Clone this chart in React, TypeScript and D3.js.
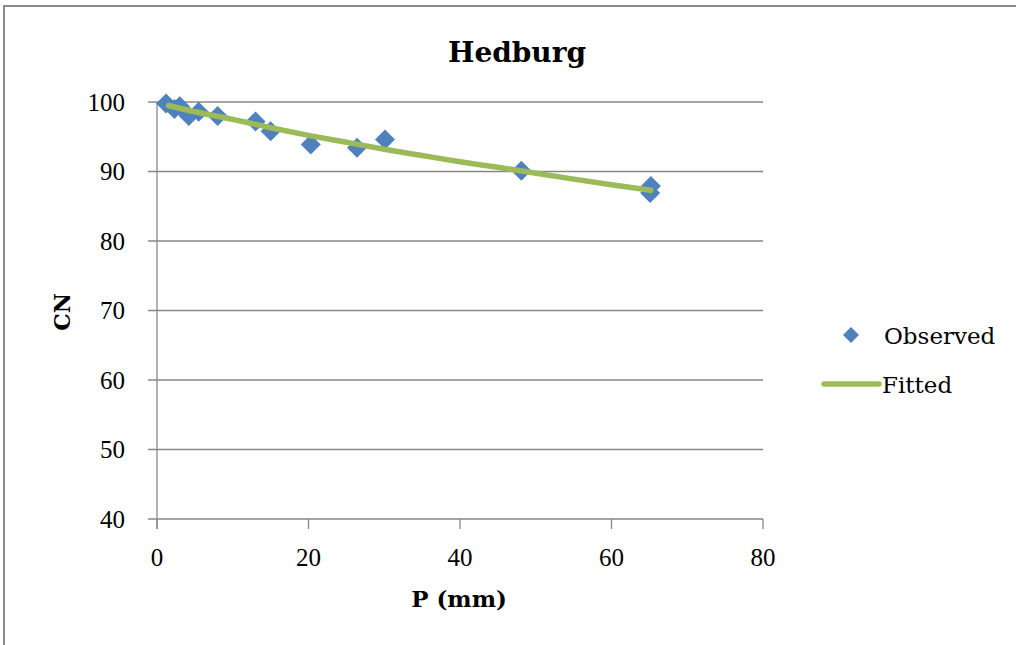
import React from "react";
import * as d3 from "d3";

const observedP = [1.2, 2.3, 3.0, 4.2, 5.5, 8.0, 13.0, 15.0, 20.3, 26.4, 30.1, 48.1, 65.2, 65.1];
const observedCN = [99.8, 99.0, 99.4, 98.0, 98.6, 98.0, 97.2, 95.8, 93.9, 93.4, 94.6, 90.1, 87.9, 86.9];
const fittedP = [1.5, 5, 10, 15, 20, 25, 30, 35, 40, 45, 48, 55, 60, 65.2];
const fittedCN = [99.5, 98.6, 97.5, 96.3, 95.2, 94.2, 93.2, 92.3, 91.4, 90.6, 90.1, 88.9, 88.1, 87.3];
const xTicks = [0, 20, 40, 60, 80];
const yTicks = [40, 50, 60, 70, 80, 90, 100];

const W = 1016, H = 645;
const left = 157, right = 763, top = 102, bottom = 519;
const FONT = "'DejaVu Serif', serif";
const NUMFONT = "'Liberation Serif', serif";

export default function App() {
  const x = d3.scaleLinear().domain([0, 80]).range([left, right]);
  const y = d3.scaleLinear().domain([40, 100]).range([bottom, top]);
  const line = d3.line<number>().x((_, i) => x(fittedP[i])).y((d) => y(d)).curve(d3.curveMonotoneX);
  const diamond = (cx: number, cy: number, r: number) =>
    `M${cx},${cy - r}L${cx + r},${cy}L${cx},${cy + r}L${cx - r},${cy}Z`;
  const grid = "#878787";
  return (
    <svg width={W} height={H} style={{ position: "absolute", left: 0, top: 0, background: "#fff" }}>
      <rect x={0} y={0} width={W} height={H} fill="#fff" />
      <path d={`M4,${H}L4,6L${W},6`} fill="none" stroke="#8a8a8a" strokeWidth={2} />
      <text x={517} y={62} textAnchor="middle" fontFamily={FONT} fontWeight="bold" fontSize={28}>Hedburg</text>
      {yTicks.map((t) => (
        <g key={"y" + t}>
          <line x1={left - 9} x2={right} y1={y(t)} y2={y(t)} stroke={grid} strokeWidth={1.3} />
          <text x={125} y={y(t)} dy="0.34em" textAnchor="end" fontFamily={NUMFONT} fontSize={25}>{t}</text>
        </g>
      ))}
      <line x1={left} x2={left} y1={top} y2={bottom + 10} stroke={grid} strokeWidth={1.3} />
      {xTicks.map((t) => (
        <g key={"x" + t}>
          <line x1={x(t)} x2={x(t)} y1={bottom} y2={bottom + 10} stroke={grid} strokeWidth={1.3} />
          <text x={x(t)} y={566} textAnchor="middle" fontFamily={NUMFONT} fontSize={25}>{t}</text>
        </g>
      ))}
      <text x={459} y={607} textAnchor="middle" fontFamily={FONT} fontWeight="bold" fontSize={23}>P (mm)</text>
      <text transform={`translate(70,312) rotate(-90)`} textAnchor="middle" fontFamily={FONT} fontWeight="bold" fontSize={22}>CN</text>
      {observedCN.map((v, i) => (
        <path key={"o" + i} d={diamond(x(observedP[i]), y(v), 10)} fill="#4F81BD" />
      ))}
      <path d={line(fittedCN) || ""} fill="none" stroke="#9BBB59" strokeWidth={5.5} strokeLinecap="round" />
      <path d={diamond(851, 335, 8)} fill="#4F81BD" />
      <text x={884} y={344} fontFamily={FONT} fontSize={23}>Observed</text>
      <line x1={824} x2={879} y1={384} y2={384} stroke="#9BBB59" strokeWidth={5.5} strokeLinecap="round" />
      <text x={882} y={393} fontFamily={FONT} fontSize={23}>Fitted</text>
    </svg>
  );
}
